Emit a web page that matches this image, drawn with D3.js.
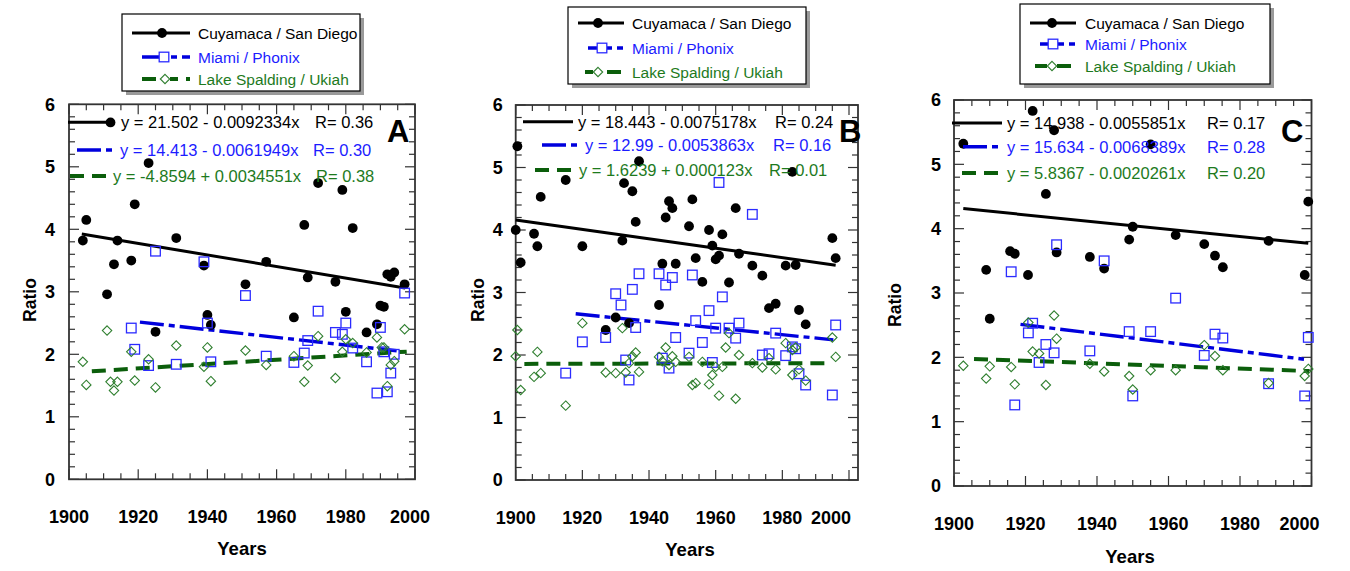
<!DOCTYPE html>
<html><head><meta charset="utf-8">
<script src="https://cdn.jsdelivr.net/npm/d3@7"></script>
<style>
html,body{margin:0;padding:0;background:#fff;}
svg{display:block;font-family:Arial,"Liberation Sans",sans-serif;}
</style></head>
<body><svg id="chart" width="1350" height="571"></svg>
<script>
// ---------------- DATA ----------------
const categories = ["Cuyamaca / San Diego", "Miami / Phonix", "Lake Spalding / Ukiah"];
const panelNames = ["A", "B", "C"];
const xTickLabels = [1900, 1920, 1940, 1960, 1980, 2000];
const yTickLabels = [0, 1, 2, 3, 4, 5, 6];

// Panel A  [year, ratio]
const aCuyamaca = [[1912,5.71],[1905,4.15],[1904,3.82],[1914,3.82],[1919,4.40],[1923,5.06],[1931,3.86],[1913,3.44],[1918,3.50],[1911,2.96],[1925,2.36],[1939,3.42],[1940,2.63],[1941,2.47],[1951,3.12],[1957,3.48],[1972,4.74],[1979,4.63],[1968,4.07],[1982,4.02],[1969,3.23],[1977,3.16],[1992,3.28],[1993,3.24],[1994,3.31],[1997,3.12],[1965,2.59],[1980,2.68],[1990,2.78],[1991,2.76],[1989,2.48],[1986,2.35]];
const aMiami = [[1925,3.65],[1939,3.48],[1940,2.50],[1918,2.42],[1919,2.08],[1923,1.82],[1931,1.84],[1941,1.88],[1951,2.94],[1972,2.69],[1980,2.50],[1977,2.35],[1979,2.32],[1969,2.22],[1990,2.43],[1982,2.10],[1997,2.98],[1957,1.97],[1968,2.02],[1965,1.87],[1986,1.88],[1991,2.04],[1994,2.00],[1993,1.70],[1992,1.40],[1989,1.38]];
const aLake = [[1911,2.38],[1904,1.88],[1905,1.51],[1912,1.56],[1914,1.56],[1913,1.42],[1918,2.04],[1923,1.92],[1919,1.58],[1925,1.47],[1931,2.14],[1940,2.11],[1939,1.80],[1941,1.57],[1951,2.06],[1957,1.83],[1965,1.97],[1969,1.82],[1968,1.56],[1972,2.29],[1977,1.62],[1979,2.04],[1980,2.24],[1982,2.18],[1986,2.03],[1989,2.27],[1990.4,2.11],[1991,2.11],[1993,1.83],[1994,1.89],[1992,1.49],[1997,2.40]];
// fits: [intercept, slope, firstYear, lastYear]
const aFits = [[21.502,-0.0092334,1903.7,1997.1],[14.413,-0.0061949,1920.5,1994.7],[-4.8594,0.0034551,1906.6,1997.6]];
const aEquations = ["y = 21.502 - 0.0092334x","y = 14.413 - 0.0061949x","y = -4.8594 + 0.0034551x"];
const aR = ["R= 0.36","R= 0.30","R= 0.38"];

// Panel B
const bCuyamaca = [[1900.5,5.34],[1900,4.0],[1901.5,3.48],[1907.5,4.53],[1905.5,3.94],[1906.5,3.74],[1915,4.80],[1920,3.74],[1927,2.40],[1930,2.60],[1934,2.51],[1932,3.83],[1932.5,4.75],[1935,4.62],[1937,5.10],[1936,4.13],[1943,2.80],[1944,3.46],[1948,3.46],[1945,4.20],[1946,4.46],[1947,4.35],[1953,4.49],[1952,4.06],[1954,3.55],[1956,3.17],[1958,4.00],[1959,3.75],[1962,3.93],[1960,3.53],[1961,3.59],[1964,3.16],[1966,4.35],[1967,3.62],[1971,3.43],[1974,3.27],[1976,2.75],[1978,2.82],[1981,3.43],[1984,3.44],[1983,4.93],[1985,2.72],[1987,2.49],[1995,3.87],[1996,3.55]];
const bMiami = [[1937,3.30],[1943,3.30],[1947,3.24],[1945,3.12],[1935,3.05],[1930,2.98],[1931.6,2.80],[1936,2.44],[1927,2.28],[1920,2.21],[1915,1.71],[1933,1.92],[1934,1.60],[1944,1.95],[1946,1.79],[1948,2.28],[1953,3.28],[1962,2.93],[1958,2.71],[1954,2.55],[1960,2.43],[1964,2.43],[1967,2.51],[1966,2.27],[1956,2.20],[1952,2.03],[1959,1.88],[1978,2.35],[1974,2.00],[1976,2.02],[1981,1.99],[1983,2.13],[1984,2.10],[1985,1.70],[1987,1.52],[1995,1.36],[1996,2.48],[1961,4.76],[1971,4.25]];
const bLake = [[1900.5,2.40],[1900,1.98],[1901.5,1.44],[1906.5,2.05],[1905.5,1.65],[1907.5,1.71],[1915,1.19],[1920,2.51],[1927,1.72],[1930,1.71],[1933,1.72],[1932,2.43],[1934,1.87],[1935,1.98],[1936,2.04],[1937,1.73],[1943,1.97],[1944,1.90],[1945,2.12],[1946,1.84],[1947,1.98],[1948,1.89],[1952,1.97],[1953,1.52],[1954,1.55],[1956,1.89],[1958,1.53],[1959,1.68],[1960,1.81],[1962,1.81],[1961,1.35],[1963,2.12],[1964,2.35],[1966,1.30],[1967,2.00],[1971,1.87],[1974,1.80],[1976,1.95],[1978,1.77],[1981,2.19],[1983,2.08],[1984,2.12],[1983,1.68],[1985,1.77],[1987,1.59],[1995,2.28],[1996,1.97]];
const bFits = [[18.443,-0.0075178,1900,1996],[12.99,-0.0053863,1918,1995.3],[1.6239,0.000123,1902.6,1993.8]];
const bEquations = ["y = 18.443 - 0.0075178x","y = 12.99 - 0.0053863x","y = 1.6239 + 0.000123x"];
const bR = ["R= 0.24","R= 0.16","R= 0.01"];

// Panel C
const cCuyamaca = [[1902.6,5.32],[1922,5.83],[1928,5.53],[1925.7,4.54],[1909,3.36],[1910,2.60],[1915.7,3.65],[1917,3.61],[1920.7,3.28],[1928.7,3.63],[1938,3.56],[1942,3.38],[1955,5.31],[1950,4.03],[1949,3.83],[1962,3.90],[1970,3.76],[1973,3.58],[1975.2,3.40],[1988,3.81],[1999.1,4.42],[1998.1,3.28]];
const cMiami = [[1916,3.33],[1928.7,3.75],[1942,3.50],[1922,2.53],[1920.8,2.38],[1925.7,2.20],[1928,2.07],[1923.8,1.92],[1938,2.10],[1917,1.26],[1962,2.92],[1949,2.40],[1955,2.40],[1973,2.36],[1975.2,2.30],[1970,2.03],[1950,1.40],[1988,1.59],[1998.1,1.40],[1999.1,2.31]];
const cLake = [[1902.6,1.87],[1909,1.67],[1910,1.86],[1916,1.85],[1917,1.58],[1920.8,2.54],[1922,2.09],[1923.8,2.06],[1925.7,1.57],[1928,2.65],[1928.7,2.29],[1938,1.90],[1942,1.78],[1949,1.71],[1950,1.50],[1955,1.80],[1962,1.80],[1970,2.19],[1973,2.02],[1975.2,1.80],[1988,1.60],[1998.1,1.71],[1999.1,1.82]];
const cFits = [[14.938,-0.0055851,1902.6,1999.1],[15.634,-0.0068389,1918.6,1997.9],[5.8367,-0.0020261,1905.6,1999.4]];
const cEquations = ["y = 14.938 - 0.0055851x","y = 15.634 - 0.0068389x","y = 5.8367 - 0.0020261x"];
const cR = ["R= 0.17","R= 0.28","R= 0.20"];

// ---------------- STYLE / LAYOUT ----------------
const lineColors = ["#000000", "#0000dd", "#0b5e0b"];
const textColors = ["#000000", "#1c1cff", "#1d7a1d"];
const markerColors = ["#000000", "#2b2bff", "#2f7f2f"];
const dashes = [null, "24,5,6,5", "14,8"];
const widths = [3, 3.4, 4];

const panels = [
  { name: "A", data: [aCuyamaca, aMiami, aLake], fits: aFits, eq: aEquations, r: aR,
    x: [69, 415], xMax: 2000, y: [479.3, 104.3], lastLabelDx: -5,
    rowY: [122.3, 150, 176], sample: [[68,110],[77,113],[70,107]],
    eqX: [121,120,113], rX: [315,313,316], letter: [387, 141.7],
    legend: { box: [122, 14, 360, 91], rows: [33, 57, 79], lines: [[132,190],[142,190],[142,190]], marks: [162,164,165], tx: 198 },
    ratio: [30, 300], years: [242, 548], xLabY: 523, yLabDx: 14 },
  { name: "B", data: [bCuyamaca, bMiami, bLake], fits: bFits, eq: bEquations, r: bR,
    x: [515.7, 858], xMax: 2002.7, y: [480, 105], lastLabelDx: -18,
    rowY: [121.7, 145, 170], sample: [[523,573],[542,578],[535,572]],
    eqX: [578,585,579], rX: [775,773,769], letter: [839, 141.7],
    legend: { box: [568, 7, 806, 84], rows: [23, 48, 72], lines: [[578,624],[588,624],[585,624]], marks: [598,602,598], tx: 632 },
    ratio: [478, 300], years: [690, 549], xLabY: 524, yLabDx: 13 },
  { name: "C", data: [cCuyamaca, cMiami, cLake], fits: cFits, eq: cEquations, r: cR,
    x: [954, 1311.5], xMax: 2000, y: [486, 100], lastLabelDx: -12,
    rowY: [123, 146.7, 173], sample: [[952,1002],[963,1002],[962,1002]],
    eqX: [1007,1007,1007], rX: [1207,1207,1207], letter: [1281, 141.7],
    legend: { box: [1020, 4, 1270, 84], rows: [23, 44, 66], lines: [[1030,1076],[1040,1076],[1035,1076]], marks: [1052,1053,1052], tx: 1085 },
    ratio: [895, 305], years: [1130, 556], xLabY: 530, yLabDx: 13 }
];

const svg = d3.select("#chart");

function drawMarker(g, kind, cx, cy) {
  if (kind === 0) {
    g.append("circle").attr("cx", cx).attr("cy", cy).attr("r", 4.9).attr("fill", markerColors[0]);
  } else if (kind === 1) {
    g.append("rect").attr("x", cx - 4.8).attr("y", cy - 4.8).attr("width", 9.6).attr("height", 9.6)
      .attr("fill", "none").attr("stroke", markerColors[1]).attr("stroke-width", 1.3);
  } else {
    const r = 4.7;
    g.append("path").attr("d", `M${cx},${cy - r}L${cx + r},${cy}L${cx},${cy + r}L${cx - r},${cy}Z`)
      .attr("fill", "none").attr("stroke", markerColors[2]).attr("stroke-width", 1.1);
  }
}

panels.forEach(p => {
  const x = d3.scaleLinear().domain([1900, p.xMax]).range(p.x);
  const y = d3.scaleLinear().domain([0, 6]).range(p.y);
  const g = svg.append("g");
  const L = p.x[0], R = p.x[1], T = p.y[1], B = p.y[0];
  const axisColor = "#333";

  // ticks (inward on all sides)
  d3.range(0, 6.001, 0.2).forEach(v => {
    const major = Math.abs(v - Math.round(v)) < 1e-6;
    const len = major ? 10 : 6;
    g.append("line").attr("x1", L).attr("x2", L + len).attr("y1", y(v)).attr("y2", y(v)).attr("stroke", axisColor).attr("stroke-width", 1.2);
    g.append("line").attr("x1", R).attr("x2", R - len).attr("y1", y(v)).attr("y2", y(v)).attr("stroke", axisColor).attr("stroke-width", 1.2);
  });
  d3.range(1900, 2000.001, 5).forEach(yr => {
    const major = yr % 20 === 0;
    const len = major ? 10 : 6;
    g.append("line").attr("x1", x(yr)).attr("x2", x(yr)).attr("y1", B).attr("y2", B - len).attr("stroke", axisColor).attr("stroke-width", 1.2);
    g.append("line").attr("x1", x(yr)).attr("x2", x(yr)).attr("y1", T).attr("y2", T + len).attr("stroke", axisColor).attr("stroke-width", 1.2);
  });
  g.append("rect").attr("x", L).attr("y", T).attr("width", R - L).attr("height", B - T)
    .attr("fill", "none").attr("stroke", axisColor).attr("stroke-width", 1.8);

  // tick labels
  yTickLabels.forEach(v => {
    g.append("text").attr("x", L - p.yLabDx).attr("y", y(v)).attr("dy", "0.36em")
      .attr("text-anchor", "end").attr("font-size", 18).attr("font-weight", "bold").text(v);
  });
  xTickLabels.forEach((v, i) => {
    g.append("text").attr("x", x(v) + (i === xTickLabels.length - 1 ? p.lastLabelDx : 0)).attr("y", p.xLabY)
      .attr("text-anchor", "middle").attr("font-size", 18).attr("font-weight", "bold").text(v);
  });
  g.append("text").attr("transform", `translate(${p.ratio[0]},${p.ratio[1]}) rotate(-90)`)
    .attr("text-anchor", "middle").attr("dy", "0.36em").attr("font-size", 17.5).attr("font-weight", "bold").text("Ratio");
  g.append("text").attr("x", p.years[0]).attr("y", p.years[1]).attr("dy", "0.36em")
    .attr("text-anchor", "middle").attr("font-size", 18.5).attr("font-weight", "bold").text("Years");

  // regression lines
  p.fits.forEach((f, i) => {
    const pts = [f[2], f[3]].map(yr => [x(yr), y(f[0] + f[1] * yr)]);
    g.append("path").attr("d", d3.line()(pts)).attr("fill", "none")
      .attr("stroke", lineColors[i]).attr("stroke-width", widths[i])
      .attr("stroke-dasharray", dashes[i]);
  });

  // markers
  p.data.forEach((series, i) => {
    series.forEach(d => drawMarker(g, i, x(d[0]), y(d[1])));
  });

  // equation rows
  p.eq.forEach((t, i) => {
    const ry = p.rowY[i];
    g.append("line").attr("x1", p.sample[i][0]).attr("x2", p.sample[i][1]).attr("y1", ry).attr("y2", ry)
      .attr("stroke", lineColors[i]).attr("stroke-width", widths[i]).attr("stroke-dasharray", dashes[i]);
    g.append("text").attr("x", p.eqX[i]).attr("y", ry).attr("dy", "0.36em").attr("font-size", 16.5)
      .attr("fill", textColors[i]).text(t);
    g.append("text").attr("x", p.rX[i]).attr("y", ry).attr("dy", "0.36em").attr("font-size", 16.5)
      .attr("fill", textColors[i]).text(p.r[i]);
  });
  g.append("text").attr("x", p.letter[0]).attr("y", p.letter[1]).attr("font-size", 31)
    .attr("font-weight", "bold").text(p.name);

  // legend
  const lg = p.legend, bx = lg.box;
  const lgG = svg.append("g");
  lgG.append("rect").attr("x", bx[0] + 4).attr("y", bx[1] + 4).attr("width", bx[2] - bx[0]).attr("height", bx[3] - bx[1]).attr("fill", "#9a9a9a");
  lgG.append("rect").attr("x", bx[0]).attr("y", bx[1]).attr("width", bx[2] - bx[0]).attr("height", bx[3] - bx[1])
    .attr("fill", "#fff").attr("stroke", "#000").attr("stroke-width", 1.2);
  categories.forEach((c, i) => {
    const ry = lg.rows[i];
    lgG.append("line").attr("x1", lg.lines[i][0]).attr("x2", lg.lines[i][1]).attr("y1", ry).attr("y2", ry)
      .attr("stroke", lineColors[i]).attr("stroke-width", widths[i]).attr("stroke-dasharray", dashes[i]);
    if (i > 0) lgG.append("rect").attr("x", lg.marks[i] - 5).attr("y", ry - 5).attr("width", 10).attr("height", 10).attr("fill", "#fff");
    drawMarker(lgG, i, lg.marks[i], ry);
    lgG.append("text").attr("x", lg.tx).attr("y", ry).attr("dy", "0.36em").attr("font-size", 15.5)
      .attr("fill", textColors[i]).text(c);
  });
});
</script></body></html>
